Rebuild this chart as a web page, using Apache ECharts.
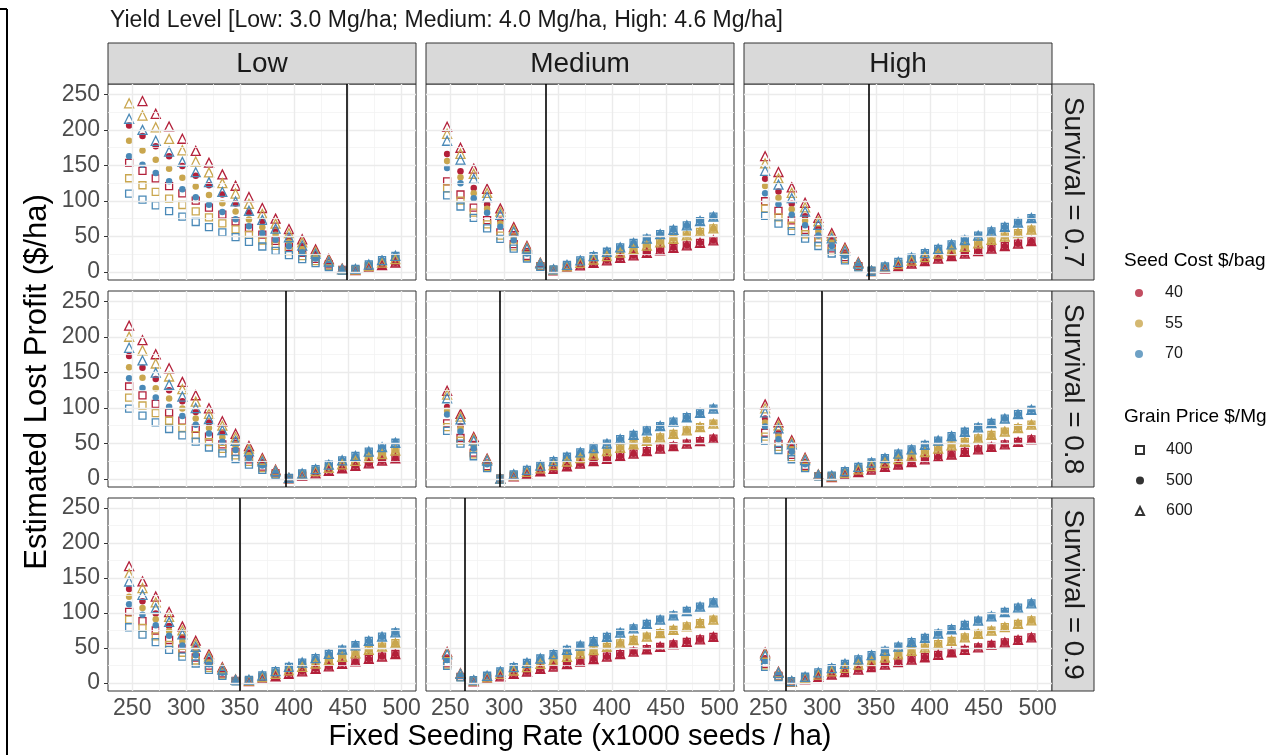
<!DOCTYPE html>
<html>
<head>
<meta charset="utf-8">
<script src="https://cdn.jsdelivr.net/npm/echarts@6/dist/echarts.min.js"></script>
<style>
  html, body { margin: 0; padding: 0; background: #fff; }
  #chart { width: 1287px; height: 755px; }
</style>
</head>
<body>
<div id="chart"></div>
<script>
const seedRates = [247.1, 259.5, 271.8, 284.2, 296.5, 308.9, 321.2, 333.6, 345.9, 358.3, 370.7, 383.0, 395.4, 407.7, 420.1, 432.4, 444.8, 457.1, 469.5, 481.8, 494.2];
const seedCosts = ['40', '55', '70'];
const grainPrices = ['400', '500', '600'];
const yieldLevels = ['Low', 'Medium', 'High'];
const survivalRates = ['0.7', '0.8', '0.9'];
const optimumRates = [[449.0, 338.8, 342.9], [392.7, 296.2, 299.9], [349.4, 263.7, 266.5]];
const xTicks = [250, 300, 350, 400, 450, 500];
const yTicks = [0, 50, 100, 150, 200, 250];
const xMinorGrid = [275, 325, 375, 425, 475];
const yMinorGrid = [25, 75, 125, 175, 225];

// left of the optimum: rows = price 400 (seed 40, 55, 70), price 500 (...), price 600 (...)
// right of the optimum: rows = seed 40, 55, 70 (the three grain prices sit on top of each other)
const low07Left = [
  [153.4, 142.3, 131.5, 120.8, 110.4, 100.2, 90.3, 80.4, 70.9, 61.7, 52.5, 43.6, 35.0, 26.6, 18.3, 10.4, 2.6],
  [131.8, 121.9, 112.5, 103.2, 94.1, 85.2, 76.6, 68.1, 59.9, 52.0, 44.1, 36.6, 29.2, 22.2, 15.2, 8.6, 2.1],
  [110.1, 101.7, 93.5, 85.5, 77.8, 70.2, 62.9, 55.7, 48.9, 42.2, 35.7, 29.5, 23.5, 17.8, 12.2, 6.8, 1.7],
  [206.1, 191.4, 177.0, 162.7, 148.9, 135.3, 122.0, 108.8, 96.1, 83.5, 71.2, 59.3, 47.6, 36.2, 25.0, 14.2, 3.5],
  [184.5, 171.0, 158.0, 145.1, 132.6, 120.3, 108.3, 96.5, 85.1, 73.8, 62.8, 52.3, 41.8, 31.8, 21.9, 12.4, 3.0],
  [162.9, 150.8, 139.0, 127.4, 116.3, 105.2, 94.6, 84.1, 74.0, 64.1, 54.4, 45.2, 36.1, 27.4, 18.9, 10.6, 2.6],
  [null, 240.5, 222.5, 204.7, 187.4, 170.3, 153.7, 137.2, 121.2, 105.4, 89.9, 74.9, 60.2, 45.8, 31.6, 18.0, 4.5],
  [237.3, 220.1, 203.5, 187.1, 171.1, 155.3, 140.0, 124.9, 110.2, 95.7, 81.5, 67.9, 54.4, 41.4, 28.5, 16.2, 4.0],
  [215.6, 199.9, 184.5, 169.4, 154.8, 140.3, 126.3, 112.5, 99.1, 86.0, 73.2, 60.8, 48.7, 37.0, 25.5, 14.4, 3.6]
];
const low07Right = [
  [2.3, 5.9, 9.4, 12.9],
  [3.2, 8.1, 12.9, 17.8],
  [4.1, 10.3, 16.4, 22.6]
];

const medium07Left = [
  [127.4, 108.9, 90.5, 72.8, 55.5, 39.1, 22.6, 8.1],
  [117.6, 100.4, 83.3, 66.9, 51.0, 35.9, 20.7, 7.6],
  [107.8, 92.0, 76.1, 61.1, 46.5, 32.7, 18.8, 7.0],
  [165.8, 141.8, 117.9, 94.9, 72.4, 51.0, 29.5, 10.5],
  [156.0, 133.3, 110.7, 89.0, 67.9, 47.8, 27.6, 10.0],
  [146.2, 124.9, 103.5, 83.2, 63.4, 44.6, 25.7, 9.4],
  [204.2, 174.7, 145.3, 117.0, 89.3, 62.9, 36.4, 12.9],
  [194.4, 166.2, 138.1, 111.1, 84.8, 59.7, 34.5, 12.4],
  [184.6, 157.8, 130.9, 105.3, 80.3, 56.5, 32.6, 11.8]
];
const medium07Right = [
  [2.0, 5.6, 9.1, 12.6, 16.2, 19.7, 23.2, 26.7, 30.3, 33.8, 37.3, 40.9, 44.4],
  [2.8, 7.7, 12.5, 17.4, 22.2, 27.1, 31.9, 36.8, 41.6, 46.5, 51.4, 56.2, 61.1],
  [3.6, 9.8, 16.0, 22.1, 28.3, 34.5, 40.7, 46.8, 53.0, 59.2, 65.4, 71.5, 77.7]
];

const high07Left = [
  [99.4, 85.8, 72.5, 59.2, 46.3, 33.1, 20.6, 8.1],
  [89.2, 76.8, 64.9, 52.9, 41.4, 29.4, 18.3, 7.1],
  [78.9, 67.9, 57.3, 46.7, 36.4, 25.8, 16.0, 6.2],
  [131.1, 113.2, 95.7, 78.2, 61.2, 43.8, 27.3, 10.8],
  [120.9, 104.2, 88.1, 71.9, 56.3, 40.1, 25.0, 9.8],
  [110.6, 95.3, 80.5, 65.7, 51.3, 36.5, 22.7, 8.9],
  [162.8, 140.6, 118.9, 97.2, 76.1, 54.5, 34.0, 13.5],
  [152.6, 131.6, 111.3, 90.9, 71.2, 50.8, 31.7, 12.5],
  [142.3, 122.7, 103.7, 84.7, 66.2, 47.2, 29.4, 11.6]
];
const high07Right = [
  [0.9, 4.4, 7.9, 11.5, 15.0, 18.5, 22.1, 25.6, 29.1, 32.6, 36.2, 39.7, 43.2],
  [1.2, 6.1, 10.9, 15.8, 20.6, 25.5, 30.3, 35.2, 40.0, 44.9, 49.7, 54.6, 59.4],
  [1.5, 7.7, 13.9, 20.1, 26.3, 32.4, 38.6, 44.8, 51.0, 57.1, 63.3, 69.5, 75.7]
];

const low08Left = [
  [130.0, 117.5, 105.5, 93.4, 81.9, 70.5, 59.4, 48.4, 37.9, 27.5, 17.3, 7.5],
  [114.4, 103.3, 92.5, 81.8, 71.6, 61.5, 51.7, 42.1, 32.9, 23.8, 15.0, 6.5],
  [98.8, 89.0, 79.6, 70.2, 61.3, 52.5, 44.1, 35.8, 27.9, 20.1, 12.6, 5.5],
  [172.9, 156.4, 140.5, 124.6, 109.2, 94.1, 79.4, 64.8, 50.7, 36.9, 23.3, 10.1],
  [157.3, 142.2, 127.5, 113.0, 98.9, 85.1, 71.7, 58.5, 45.7, 33.2, 21.0, 9.1],
  [141.7, 127.9, 114.6, 101.4, 88.6, 76.1, 64.0, 52.1, 40.7, 29.5, 18.6, 8.1],
  [215.7, 195.2, 175.4, 155.7, 136.5, 117.7, 99.3, 81.1, 63.5, 46.2, 29.2, 12.7],
  [200.1, 181.0, 162.4, 144.1, 126.2, 108.7, 91.6, 74.8, 58.5, 42.5, 26.9, 11.7],
  [184.5, 166.7, 149.5, 132.5, 115.9, 99.7, 84.0, 68.5, 53.5, 38.8, 24.5, 10.7]
];
const low08Right = [
  [0.8, 4.3, 7.8, 11.3, 14.9, 18.4, 21.9, 25.5, 29.0],
  [1.1, 5.9, 10.8, 15.6, 20.5, 25.3, 30.2, 35.0, 39.9],
  [1.4, 7.5, 13.7, 19.9, 26.1, 32.2, 38.4, 44.6, 50.8]
];

const medium08Left = [
  [78.0, 57.5, 37.0, 17.8],
  [72.7, 53.6, 34.4, 16.5],
  [67.5, 49.7, 31.8, 15.2],
  [101.0, 74.5, 48.0, 23.1],
  [95.7, 70.6, 45.4, 21.8],
  [90.5, 66.7, 42.8, 20.5],
  [124.0, 91.5, 59.0, 28.4],
  [118.7, 87.6, 56.4, 27.1],
  [113.5, 83.7, 53.8, 25.8]
];
const medium08Right = [
  [0.1, 3.6, 7.1, 10.7, 14.2, 17.7, 21.3, 24.8, 28.3, 31.9, 35.4, 38.9, 42.5, 46.0, 49.5, 53.0, 56.6],
  [0.1, 5.0, 9.8, 14.7, 19.5, 24.4, 29.3, 34.1, 39.0, 43.8, 48.7, 53.5, 58.4, 63.2, 68.1, 72.9, 77.8],
  [0.2, 6.4, 12.5, 18.7, 24.9, 31.1, 37.3, 43.4, 49.6, 55.8, 62.0, 68.1, 74.3, 80.5, 86.7, 92.8, 99.0]
];

const high08Left = [
  [64.9, 49.3, 33.6, 18.3, 3.8],
  [59.3, 44.9, 30.6, 16.6, 3.5],
  [53.6, 40.6, 27.6, 15.0, 3.1],
  [84.9, 64.5, 44.0, 24.0, 5.0],
  [79.3, 60.1, 41.0, 22.3, 4.7],
  [73.6, 55.8, 38.0, 20.7, 4.3],
  [104.9, 79.7, 54.4, 29.7, 6.2],
  [99.3, 75.3, 51.4, 28.0, 5.9],
  [93.6, 71.0, 48.4, 26.4, 5.5]
];
const high08Right = [
  [2.6, 6.1, 9.6, 13.1, 16.7, 20.2, 23.7, 27.3, 30.8, 34.3, 37.9, 41.4, 44.9, 48.5, 52.0, 55.5],
  [3.5, 8.4, 13.2, 18.1, 22.9, 27.8, 32.7, 37.5, 42.4, 47.2, 52.1, 56.9, 61.8, 66.6, 71.5, 76.3],
  [4.5, 10.7, 16.9, 23.0, 29.2, 35.4, 41.6, 47.8, 53.9, 60.1, 66.3, 72.5, 78.6, 84.8, 91.0, 97.2]
];

const low09Left = [
  [101.6, 88.3, 75.0, 61.4, 48.9, 36.4, 24.7, 13.5, 3.0],
  [90.6, 78.7, 66.7, 54.4, 43.2, 32.1, 21.7, 11.8, 2.6],
  [79.7, 69.1, 58.4, 47.4, 37.6, 27.8, 18.7, 10.1, 2.3],
  [134.3, 116.8, 99.3, 81.4, 64.9, 48.4, 32.9, 18.0, 4.0],
  [123.3, 107.2, 91.0, 74.4, 59.2, 44.1, 29.9, 16.3, 3.6],
  [112.4, 97.6, 82.7, 67.4, 53.6, 39.8, 26.9, 14.6, 3.3],
  [167.0, 145.3, 123.6, 101.4, 80.9, 60.4, 41.1, 22.5, 5.0],
  [156.0, 135.7, 115.3, 94.4, 75.2, 56.1, 38.1, 20.8, 4.6],
  [145.1, 126.1, 107.0, 87.4, 69.6, 51.8, 35.1, 19.1, 4.3]
];
const low09Right = [
  [2.5, 6.1, 9.6, 13.1, 16.7, 20.2, 23.7, 27.3, 30.8, 34.3, 37.8, 41.4],
  [3.5, 8.4, 13.2, 18.1, 22.9, 27.8, 32.6, 37.5, 42.3, 47.2, 52.0, 56.9],
  [4.5, 10.7, 16.8, 23.0, 29.2, 35.4, 41.5, 47.7, 53.9, 60.1, 66.2, 72.4]
];

const medium09Left = [
  [28.1, 8.8], [26.3, 8.4], [24.5, 7.9],
  [36.3, 11.3], [34.5, 10.9], [32.7, 10.4],
  [44.5, 13.8], [42.7, 13.4], [40.9, 12.9]
];
const medium09Right = [
  [2.3, 5.9, 9.4, 12.9, 16.4, 20.0, 23.5, 27.0, 30.6, 34.1, 37.6, 41.1, 44.7, 48.2, 51.7, 55.3, 58.8, 62.3, 65.9],
  [3.2, 8.1, 12.9, 17.8, 22.6, 27.5, 32.3, 37.2, 42.0, 46.9, 51.7, 56.6, 61.4, 66.3, 71.2, 76.0, 80.9, 85.7, 90.6],
  [4.1, 10.3, 16.4, 22.6, 28.8, 35.0, 41.1, 47.3, 53.5, 59.7, 65.9, 72.0, 78.2, 84.4, 90.6, 96.7, 102.9, 109.1, 115.3]
];

const high09Left = [
  [27.3, 10.0], [25.2, 9.3], [23.1, 8.5],
  [35.5, 13.0], [33.4, 12.3], [31.3, 11.5],
  [43.7, 16.0], [41.6, 15.3], [39.5, 14.5]
];
const high09Right = [
  [1.5, 5.1, 8.6, 12.1, 15.6, 19.2, 22.7, 26.2, 29.8, 33.3, 36.8, 40.3, 43.9, 47.4, 50.9, 54.5, 58.0, 61.5, 65.1],
  [2.1, 7.0, 11.8, 16.7, 21.5, 26.4, 31.2, 36.1, 40.9, 45.8, 50.6, 55.5, 60.3, 65.2, 70.1, 74.9, 79.8, 84.6, 89.5],
  [2.7, 8.9, 15.0, 21.2, 27.4, 33.6, 39.7, 45.9, 52.1, 58.3, 64.5, 70.6, 76.8, 83.0, 89.2, 95.3, 101.5, 107.7, 113.9]
];

const panelLeft = [
  [low07Left, medium07Left, high07Left],
  [low08Left, medium08Left, high08Left],
  [low09Left, medium09Left, high09Left]
];
const panelRight = [
  [low07Right, medium07Right, high07Right],
  [low08Right, medium08Right, high08Right],
  [low09Right, medium09Right, high09Right]
];

const FONT = '"Liberation Sans", Arial, Helvetica, sans-serif';
const seedColors = ['#B3203A', '#C9A64E', '#4A89B7'];
const priceSymbols = ['rect', 'circle', 'triangle'];
const priceSizes = [7, 6.5, 9];

const colLeft = [108, 426, 744];
const panelWidth = 308;
const rowTop = [84, 291, 498];
const rowHeight = [196, 196, 193];
const X_MIN = 227.5, X_MAX = 513.3;
const Y_MIN = -11.5, Y_MAX = 264.5;

const chart = echarts.init(document.getElementById('chart'), null, { renderer: 'canvas' });

const grids = [], xAxes = [], yAxes = [], series = [];
const majorLine = { color: '#EBEBEB', width: 1.4, type: 'solid' };
const minorLine = { color: '#F2F2F2', width: 0.8, type: 'solid' };

for (let r = 0; r < 3; r++) {
  for (let c = 0; c < 3; c++) {
    const g = r * 3 + c;
    grids.push({
      left: colLeft[c], top: rowTop[r], width: panelWidth, height: rowHeight[r],
      show: true, backgroundColor: '#fff', borderColor: '#333333', borderWidth: 1
    });
    xAxes.push({
      type: 'value', gridIndex: g, min: X_MIN, max: X_MAX,
      axisLine: { show: false }, splitLine: { show: false },
      axisTick: { show: r === 2, length: 4, lineStyle: { color: '#333333', width: 1 }, customValues: xTicks },
      axisLabel: { show: r === 2, customValues: xTicks, fontSize: 23, color: '#4D4D4D', margin: 6, fontFamily: FONT }
    });
    yAxes.push({
      type: 'value', gridIndex: g, min: Y_MIN, max: Y_MAX,
      axisLine: { show: false }, splitLine: { show: false },
      axisTick: { show: c === 0, length: 4, lineStyle: { color: '#333333', width: 1 }, customValues: yTicks },
      axisLabel: { show: c === 0, customValues: yTicks, fontSize: 23, color: '#4D4D4D', margin: 8, fontFamily: FONT }
    });

    // panel grid lines
    series.push({
      type: 'scatter', name: 'grid' + g, xAxisIndex: g, yAxisIndex: g, data: [], silent: true, z: 1,
      markLine: {
        silent: true, symbol: 'none', animation: false, label: { show: false },
        data: [].concat(
          xMinorGrid.map(v => ({ xAxis: v, lineStyle: minorLine })),
          yMinorGrid.map(v => ({ yAxis: v, lineStyle: minorLine })),
          xTicks.map(v => ({ xAxis: v, lineStyle: majorLine })),
          yTicks.map(v => ({ yAxis: v, lineStyle: majorLine }))
        )
      }
    });

    for (let pi = 0; pi < 3; pi++) {
      for (let si = 0; si < 3; si++) {
        const values = panelLeft[r][c][pi * 3 + si].concat(panelRight[r][c][si]);
        const pts = [];
        values.forEach((v, i) => { if (v !== null) pts.push([seedRates[i], v]); });
        const filled = priceSymbols[pi] === 'circle';
        series.push({
          type: 'scatter',
          name: yieldLevels[c] + ' ' + survivalRates[r] + ' ' + grainPrices[pi] + '/' + seedCosts[si],
          xAxisIndex: g, yAxisIndex: g, data: pts, z: 2,
          symbol: priceSymbols[pi], symbolSize: priceSizes[pi],
          itemStyle: filled
            ? { color: seedColors[si], opacity: 1 }
            : { color: 'rgba(255,255,255,0)', borderColor: seedColors[si], borderWidth: 1.3, opacity: 1 },
          emphasis: { disabled: true }
        });
      }
    }

    // economic optimum
    series.push({
      type: 'scatter', name: 'opt' + g, xAxisIndex: g, yAxisIndex: g, data: [], silent: true, z: 3,
      markLine: {
        silent: true, symbol: 'none', animation: false, label: { show: false },
        lineStyle: { color: '#000000', width: 1.6, type: 'solid' },
        data: [{ xAxis: optimumRates[r][c] }]
      }
    });
  }
}

// legend-only series
seedCosts.forEach((s, i) => {
  series.push({ type: 'scatter', name: s, data: [], symbol: 'circle', itemStyle: { color: seedColors[i] } });
});
grainPrices.forEach((p, i) => {
  const filled = priceSymbols[i] === 'circle';
  series.push({
    type: 'scatter', name: p, data: [], symbol: priceSymbols[i],
    itemStyle: filled ? { color: '#000' } : { color: 'rgba(255,255,255,0)', borderColor: '#000', borderWidth: 1.2 }
  });
});

const graphics = [];
function text(t, x, y, size, opts) {
  return Object.assign({
    type: 'text', x: x, y: y, silent: true, z: 10,
    style: {
      text: t, x: 0, y: 0, fill: '#1A1A1A', fontSize: size, fontFamily: FONT,
      textAlign: 'center', textVerticalAlign: 'middle', align: 'center', verticalAlign: 'middle'
    }
  }, opts || {});
}
for (let c = 0; c < 3; c++) {
  graphics.push({
    type: 'rect', silent: true, z: 5,
    shape: { x: colLeft[c], y: 43, width: panelWidth, height: 41 },
    style: { fill: '#D9D9D9', stroke: '#333333', lineWidth: 1 }
  });
  graphics.push(text(yieldLevels[c], colLeft[c] + panelWidth / 2, 64, 28));
}
for (let r = 0; r < 3; r++) {
  graphics.push({
    type: 'rect', silent: true, z: 5,
    shape: { x: 1052, y: rowTop[r], width: 42, height: rowHeight[r] },
    style: { fill: '#D9D9D9', stroke: '#333333', lineWidth: 1 }
  });
  graphics.push(text('Survival = ' + survivalRates[r], 1073, rowTop[r] + rowHeight[r] / 2, 28, { rotation: -Math.PI / 2 }));
}
graphics.push(text('Yield Level [Low: 3.0 Mg/ha; Medium: 4.0 Mg/ha, High: 4.6 Mg/ha]', 110, 21, 23, {
  style: { text: 'Yield Level [Low: 3.0 Mg/ha; Medium: 4.0 Mg/ha, High: 4.6 Mg/ha]', x: 0, y: 0, fill: '#1A1A1A', fontSize: 23, fontFamily: FONT,
    textAlign: 'left', textVerticalAlign: 'middle', align: 'left', verticalAlign: 'middle' }
}));
graphics.push(text('Fixed Seeding Rate (x1000 seeds / ha)', 580, 737, 29, { style: {
  text: 'Fixed Seeding Rate (x1000 seeds / ha)', x: 0, y: 0, fill: '#000', fontSize: 29, fontFamily: FONT,
  textAlign: 'center', textVerticalAlign: 'middle', align: 'center', verticalAlign: 'middle' } }));
graphics.push(text('Estimated Lost Profit ($/ha)', 37, 382, 31, { rotation: Math.PI / 2, style: {
  text: 'Estimated Lost Profit ($/ha)', x: 0, y: 0, fill: '#000', fontSize: 31, fontFamily: FONT,
  textAlign: 'center', textVerticalAlign: 'middle', align: 'center', verticalAlign: 'middle' } }));
['Seed Cost $/bag', 'Grain Price $/Mg'].forEach((t, i) => {
  graphics.push(text(t, 1124, i === 0 ? 261 : 417, 19, { style: {
    text: t, x: 0, y: 0, fill: '#000', fontSize: 19, fontFamily: FONT,
    textAlign: 'left', textVerticalAlign: 'middle', align: 'left', verticalAlign: 'middle' } }));
});
// outer frame fragment at the left
graphics.push({ type: 'line', silent: true, shape: { x1: 7, y1: 9, x2: 7, y2: 755 }, style: { stroke: '#000', lineWidth: 2 } });
graphics.push({ type: 'line', silent: true, shape: { x1: 0, y1: 9, x2: 7, y2: 9 }, style: { stroke: '#000', lineWidth: 2 } });

const legendCommon = {
  orient: 'vertical', left: 1135, itemWidth: 8, itemHeight: 8, itemGap: 14.5, padding: 0,
  selectedMode: false,
  textStyle: { fontSize: 16, color: '#1A1A1A', fontFamily: FONT, lineHeight: 16, padding: [0, 0, 0, 17] }
};

chart.setOption({
  animation: false,
  backgroundColor: '#ffffff',
  grid: grids,
  xAxis: xAxes,
  yAxis: yAxes,
  series: series,
  legend: [
    Object.assign({}, legendCommon, { top: 285, data: seedCosts }),
    Object.assign({}, legendCommon, { top: 442, data: grainPrices })
  ],
  graphic: { elements: graphics }
});
</script>
</body>
</html>
